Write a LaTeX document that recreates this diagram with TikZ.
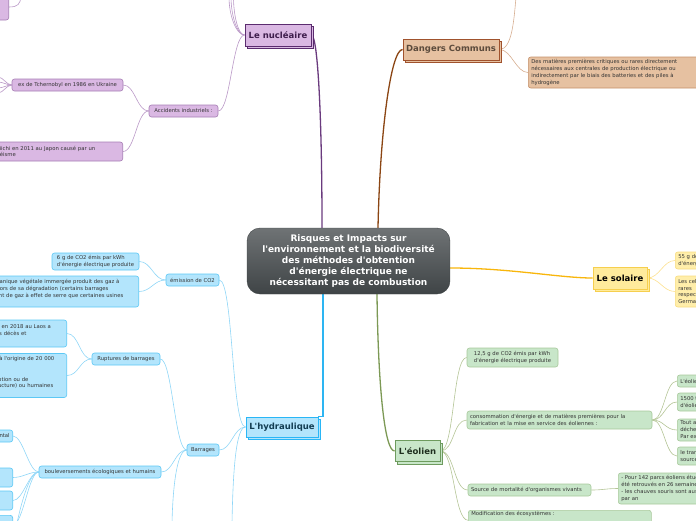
\documentclass[tikz,border=0pt]{standalone}
\usepackage{fontspec}
\setmainfont{DejaVu Sans}
\newfontfamily\djv{DejaVu Sans}
\usetikzlibrary{shadows,backgrounds}
\definecolor{bluF}{HTML}{B3E5FC}
\definecolor{bluD}{HTML}{5CC8F5}
\definecolor{bluL}{HTML}{8FD6F7}
\definecolor{bluM}{HTML}{2DB5F2}
\definecolor{bluMD}{HTML}{29B6F6}
\definecolor{bluT}{HTML}{123D52}
\definecolor{purF}{HTML}{DAB8E3}
\definecolor{purD}{HTML}{A67DB4}
\definecolor{purL}{HTML}{B997C6}
\definecolor{purM}{HTML}{6A3A7E}
\definecolor{purMD}{HTML}{5B2C6F}
\definecolor{purT}{HTML}{3E1D4C}
\definecolor{broF}{HTML}{E6C1A1}
\definecolor{broD}{HTML}{C4906A}
\definecolor{broL}{HTML}{D6AE91}
\definecolor{broM}{HTML}{8B4513}
\definecolor{broMD}{HTML}{A0522D}
\definecolor{broT}{HTML}{5C4B3C}
\definecolor{yelF}{HTML}{FFEB9C}
\definecolor{yelCF}{HTML}{FFEEAA}
\definecolor{yelD}{HTML}{F6CF4E}
\definecolor{yelCD}{HTML}{F8DC80}
\definecolor{yelL}{HTML}{FCE08E}
\definecolor{yelM}{HTML}{F8B60C}
\definecolor{greF}{HTML}{C8E6C9}
\definecolor{greD}{HTML}{A8C99B}
\definecolor{greMD}{HTML}{6E9B5E}
\definecolor{greL}{HTML}{B4C596}
\definecolor{greM}{HTML}{7C9955}
\definecolor{greT}{HTML}{1F301F}
\definecolor{cenT}{HTML}{6F7375}
\definecolor{cenB}{HTML}{3F4446}
\definecolor{txt}{HTML}{333333}
\begin{document}
\begin{tikzpicture}[x=1pt,y=-1pt,
  sub/.style={rounded corners=2.5pt, line width=0.6pt, inner xsep=3pt, inner ysep=1pt, align=left, text=txt, font=\djv\fontsize{5.3}{6.8}\selectfont},
  bsub/.style={sub, fill=bluF, draw=bluD},
  psub/.style={sub, fill=purF, draw=purD},
  osub/.style={sub, fill=broF, draw=broD},
  ysub/.style={sub, fill=yelCF, draw=yelCD},
  gsub/.style={sub, fill=greF, draw=greD},
  topic/.style={line width=0.9pt, inner sep=1pt, font=\djv\bfseries\fontsize{8.5}{10}\selectfont},
  ptopic/.style={topic, fill=purF, draw=purMD, text=purT, copy shadow={shadow xshift=2.5pt, shadow yshift=-2.5pt, fill=purF, draw=purMD}},
  otopic/.style={topic, fill=broF, draw=broMD, text=broT, copy shadow={shadow xshift=2.5pt, shadow yshift=-2.5pt, fill=broF, draw=broMD}},
  ytopic/.style={topic, fill=yelF, draw=yelD, text=black, copy shadow={shadow xshift=2.5pt, shadow yshift=-2.5pt, fill=yelF, draw=yelD}},
  gtopic/.style={topic, fill=greF, draw=greMD, text=greT, copy shadow={shadow xshift=2.5pt, shadow yshift=-2.5pt, fill=greF, draw=greMD}},
  btopic/.style={topic, fill=bluF, draw=bluMD, text=bluT, copy shadow={shadow xshift=2.5pt, shadow yshift=-2.5pt, fill=bluF, draw=bluMD}},
  cenbox/.style={rounded corners=13pt, minimum width=203pt, minimum height=66pt, top color=cenT, bottom color=cenB, draw=cenB, text=white, align=center, inner sep=2pt, font=\djv\bfseries\fontsize{9}{11}\selectfont},
  pl/.style={draw=purL, line width=0.6pt},
  ol/.style={draw=broL, line width=0.6pt},
  yl/.style={draw=yelL, line width=0.6pt},
  gl/.style={draw=greL, line width=0.6pt},
  bl/.style={draw=bluL, line width=0.6pt},
  pmain/.style={draw=purM, line width=1.3pt},
  omain/.style={draw=broM, line width=1.3pt},
  ymain/.style={draw=yelM, line width=1.3pt},
  gmain/.style={draw=greM, line width=1.3pt},
  bmain/.style={draw=bluM, line width=1.3pt},
  lk/.style={out=180,in=0,distance=#1},
  rk/.style={out=0,in=180,distance=#1}]
\useasboundingbox (0,0) rectangle (696,520);
\clip (0,0) rectangle (696,520);

% central
\node[cenbox] (cen) at (348.5,261) {Risques et Impacts sur\\l'environnement et la biodiversité\\des méthodes d'obtention\\d'énergie électrique ne\\nécessitant pas de combustion};

% nucleaire
\node[ptopic, minimum width=66pt, minimum height=22pt] (nuc) at (278,35) {Le nucléaire};
\node[psub, minimum width=69pt, minimum height=12pt] (acc) at (183.5,111) {Accidents industriels :};
\node[psub, minimum width=111pt, minimum height=12pt] (tch) at (67.5,85) {ex de Tchernobyl en 1986 en Ukraine};
\node[psub, text width=174pt, minimum height=19pt, anchor=east] (fuk) at (123,151.5) {ex de Fukushima Daiichi en 2011 au Japon causé par un\\tsunami suite à un séisme};
\node[psub, minimum width=60pt, minimum height=26pt, anchor=east] (ptop) at (9,7) {};
\coordinate (nT1) at (229,-3);
\coordinate (nT2) at (231,-3);
\coordinate (nT3) at (233.5,-3);
\coordinate (tL1) at (-2,77);
\coordinate (tL2) at (-2,82);
\coordinate (tL3) at (-2,88);
\coordinate (tL4) at (-2,93);
\coordinate (pT) at (21,-3);

% dangers
\node[osub, text width=170pt, minimum height=31pt, anchor=west] (dan1) at (528,72.5) {Des matières premières critiques ou rares directement\\nécessaires aux centrales de production électrique ou\\indirectement par le biais des batteries et des piles à\\hydrogène};
\node[otopic, minimum width=96pt, minimum height=21pt] (dan) at (451,49.5) {Dangers Communs};
\coordinate (dT) at (516,-3);

% solaire
\node[ytopic, minimum width=54pt, minimum height=22pt] (sol) at (620,278) {Le solaire};
\node[ysub, minimum height=17pt, anchor=west] (sol1) at (675,260.5) {55 g de CO2 émis par kWh\\d'énergie électrique produite};
\node[ysub, minimum height=31pt, anchor=west] (sol2) at (675,291.5) {Les cellules photovoltaïques\\rares\\respectivement\\Germanium};

% eolien
\node[gtopic, minimum width=45pt, minimum height=21pt] (eol) at (417.5,451) {L'éolien};
\node[gsub, minimum width=91pt, minimum height=19pt] (eo1) at (512.5,357.5) {12,5 g de CO2 émis par kWh\\d'énergie électrique produite};
\node[gsub, text width=179pt, minimum height=18pt] (eo2) at (559.5,420) {consommation d'énergie et de matières premières pour la\\fabrication et la mise en service des éoliennes :};
\node[gsub, text width=117pt, minimum height=12pt] (eo3) at (529.5,490) {Source de mortalité d'organismes vivants};
\node[gsub, text width=177pt, anchor=north west] (eo4) at (468,510) {Modification des écosystèmes :\\\mbox{}\\\mbox{}};
\node[gsub, minimum height=12pt, anchor=west] (e21) at (677,381) {L'éolien};
\node[gsub, minimum height=18pt, anchor=west] (e22) at (677,402) {1500 tonnes\\d'éoliennes};
\node[gsub, minimum height=22pt, anchor=west] (e23) at (677,430) {Tout au long\\déchets\\Par exemple};
\node[gsub, minimum height=18pt, anchor=west] (e24) at (677,456) {le transport\\source};
\node[gsub, minimum height=31pt, anchor=west] (e31) at (618,488.5) {- Pour 142 parcs éoliens étudiés\\été retrouvés en 26 semaines\\- les chauves souris sont aussi\\par an};

% hydraulique
\node[btopic, minimum width=72pt, minimum height=20pt] (hyd) at (282,427) {L'hydraulique};
\node[bsub, minimum width=53pt, minimum height=12pt] (co2) at (192.5,280) {émission de CO2};
\node[bsub, minimum width=32pt, minimum height=12pt] (bar) at (203,450) {Barrages};
\node[bsub, minimum width=87pt, minimum height=17pt] (co2a) at (95.5,261.5) {6 g de CO2 émis par kWh\\d'énergie électrique produite};
\node[bsub, text width=175pt, minimum height=31pt, anchor=east] (co2b) at (139,291.5) {La matière organique végétale immergée produit des gaz à\\effet de serre lors de sa dégradation (certains barrages\\émettent autant de gaz à effet de serre que certaines usines\\\mbox{}};
\node[bsub, minimum width=68pt, minimum height=12pt] (rup) at (126,359) {Ruptures de barrages};
\node[bsub, text width=112.5pt, minimum height=27pt, anchor=east] (rupa) at (67,333.5) {Un barrage rompu en 2018 au Laos a\\provoqué plusieurs décès et\\\mbox{}};
\node[bsub, text width=117pt, minimum height=44pt, anchor=east] (rupb) at (67,375.5) {Banqiao (1975) est à l'origine de 20 000\\\mbox{}\\\mbox{}\\un défaut de conception ou de\\réalisation de la structure) ou humaines\\\mbox{}};
\node[bsub, minimum width=122pt, minimum height=12pt] (bou) at (100,472) {bouleversements écologiques et humains};
\node[bsub, minimum height=12pt, anchor=east] (boua) at (13,436) {Impact environnemental};
\node[bsub, minimum width=60pt, minimum height=19pt, anchor=east] (boub) at (13,477.5) {};
\node[bsub, minimum width=60pt, minimum height=19pt, anchor=east] (bouc) at (13,500.5) {};
\node[bsub, minimum width=60pt, minimum height=19pt, anchor=north east] (boud) at (13,515) {};
\coordinate (hB) at (232,523);
\coordinate (bB) at (172,523);
\coordinate (bouB) at (17,523);

\begin{pgfonlayer}{background}
% main branches
\draw[pmain] (nuc.east) .. controls (318,36) and (322,120) .. ([xshift=-26.5pt]cen.north);
\draw[omain] ([xshift=29.5pt]cen.north) .. controls (380,130) and (391,49.5) .. (dan.west);
\draw[ymain] ([yshift=-7pt]cen.east) .. controls (510,268) and (560,278) .. (sol.west);
\draw[gmain] ([xshift=28.5pt]cen.south) .. controls (378,380) and (384,451) .. (eol.west);
\draw[bmain] ([xshift=-25.5pt]cen.south) |- (hyd.north east);
% nucleaire
\draw[pl] (nuc.west) .. controls (236,35) and (229,15) .. (nT1);
\draw[pl] (nuc.west) .. controls (237,35) and (231,15) .. (nT2);
\draw[pl] (nuc.west) .. controls (238,35) and (233.5,15) .. (nT3);
\draw[pl] (nuc.west) to[lk=12pt] (acc.east);
\draw[pl] (acc.west) to[lk=12pt] (tch.east);
\draw[pl] (acc.west) to[lk=12pt] (fuk.east);
\draw[pl] (tch.west) to[lk=5pt] (tL1);
\draw[pl] (tch.west) to[lk=5pt] (tL2);
\draw[pl] (tch.west) to[lk=5pt] (tL3);
\draw[pl] (tch.west) to[lk=5pt] (tL4);
\draw[pl] (ptop.east) .. controls (18,7) and (20,4) .. (pT);
% dangers
\draw[ol] (dan.east) to[rk=12pt] (dan1.west);
\draw[ol] (dan.east) .. controls (512,49.5) and (514,20) .. (dT);
% solaire
\draw[yl] (sol.east) to[rk=12pt] (sol1.west);
\draw[yl] (sol.east) to[rk=12pt] (sol2.west);
% eolien
\draw[gl] (eol.east) to[rk=14pt] (eo1.west);
\draw[gl] (eol.east) to[rk=14pt] (eo2.west);
\draw[gl] (eol.east) to[rk=14pt] (eo3.west);
\draw[gl] (eol.east) to[rk=14pt] (eo4.west);
\draw[gl] (eo2.east) to[rk=12pt] (e21.west);
\draw[gl] (eo2.east) to[rk=12pt] (e22.west);
\draw[gl] (eo2.east) to[rk=12pt] (e23.west);
\draw[gl] (eo2.east) to[rk=12pt] (e24.west);
\draw[gl] (eo3.east) to[rk=12pt] (e31.west);
% hydraulique
\draw[bl] (hyd.west) to[lk=14pt] (co2.east);
\draw[bl] (hyd.west) to[lk=12pt] (bar.east);
\draw[bl] (hyd.west) .. controls (236,427) and (233,470) .. (hB);
\draw[bl] (bar.west) to[lk=12pt] (rup.east);
\draw[bl] (bar.west) to[lk=12pt] (bou.east);
\draw[bl] (bar.west) .. controls (178,450) and (173,480) .. (bB);
\draw[bl] (co2.west) to[lk=12pt] (co2a.east);
\draw[bl] (co2.west) to[lk=12pt] (co2b.east);
\draw[bl] (rup.west) to[lk=12pt] (rupa.east);
\draw[bl] (rup.west) to[lk=12pt] (rupb.east);
\draw[bl] (bou.west) to[lk=10pt] (boua.east);
\draw[bl] (bou.west) to[lk=10pt] (boub.east);
\draw[bl] (bou.west) to[lk=10pt] (bouc.east);
\draw[bl] (bou.west) to[lk=10pt] (boud.east);
\draw[bl] (bou.west) .. controls (30,472) and (22,500) .. (bouB);
\end{pgfonlayer}
\end{tikzpicture}
\end{document}
